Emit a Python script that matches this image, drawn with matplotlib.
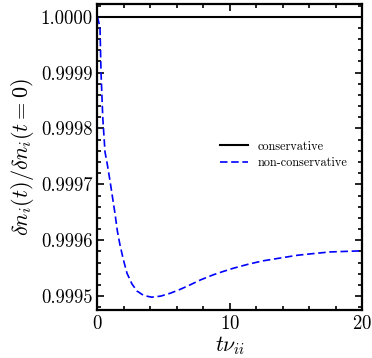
"""Density ratio for conservative vs non-conservative collision operator."""

import matplotlib
matplotlib.use("Agg")
import matplotlib.pyplot as plt
from matplotlib.ticker import MultipleLocator, FormatStrFormatter

plt.rcParams["font.family"] = "cmr10"
plt.rcParams["mathtext.fontset"] = "cm"
plt.rcParams["axes.formatter.use_mathtext"] = True

# conservative operator keeps the density exactly
t_cons = [0, 20]
n_cons = [1.0, 1.0]

# non-conservative operator, values
t_noncons = [0.0, 0.1, 0.19, 0.27, 0.4, 0.57, 0.75, 0.95, 1.15, 1.33, 1.5, 1.7, 1.95, 2.23,
             2.6, 2.99, 3.5, 4.1, 4.8, 5.5, 6.25, 7.0, 7.8, 8.75, 9.5, 10.3, 11.4, 12.5,
             13.8, 15.1, 16.3, 17.6, 18.8, 20.0]
n_noncons = [1.0, 0.99999, 0.999982, 0.99990, 0.99982, 0.999758, 0.999735, 0.999706, 0.999675,
             0.999647, 0.999617, 0.999592, 0.999566, 0.999541, 0.999522, 0.999509, 0.999501,
             0.999498, 0.999500, 0.999505, 0.999512, 0.99952, 0.999529, 0.999538, 0.999544,
             0.99955, 0.999557, 0.999563, 0.999568, 0.999573, 0.999576, 0.999579, 0.99958,
             0.999581]

fig = plt.figure(figsize=(3.72, 3.58), dpi=100)
ax = fig.add_axes([0.262, 0.134, 0.711, 0.855])

ax.plot(t_cons, n_cons, color="black", lw=1.5, label="conservative")
ax.plot(t_noncons, n_noncons, color="blue", lw=1.2, ls=(0, (4.5, 2.2)), label="non-conservative")

ax.set_xlim(0, 20)
ax.set_ylim(0.999475, 1.000023)
ax.xaxis.set_major_locator(MultipleLocator(10))
ax.xaxis.set_minor_locator(MultipleLocator(2))
ax.yaxis.set_major_locator(MultipleLocator(0.0001))
ax.yaxis.set_minor_locator(MultipleLocator(0.00002))
ax.yaxis.set_major_formatter(FormatStrFormatter("%.4f"))

ax.tick_params(which="both", direction="in", top=True, right=True, labelsize=13.5, width=1.2)
ax.tick_params(which="major", length=5)
ax.tick_params(which="minor", length=3)
for spine in ax.spines.values():
    spine.set_linewidth(1.6)

ax.set_xlabel(r"$t\nu_{ii}$", fontsize=15.5, labelpad=1)
ax.set_ylabel(r"$\delta n_i(t)/\delta n_i(t=0)$", fontsize=16, labelpad=3)

ax.legend(loc="center left", bbox_to_anchor=(0.463, 0.507), frameon=False, fontsize=8.8,
          handlelength=2.3, handletextpad=0.75, borderpad=0, borderaxespad=0,
          labelspacing=0.35)

fig.savefig("out.png", dpi=100)
